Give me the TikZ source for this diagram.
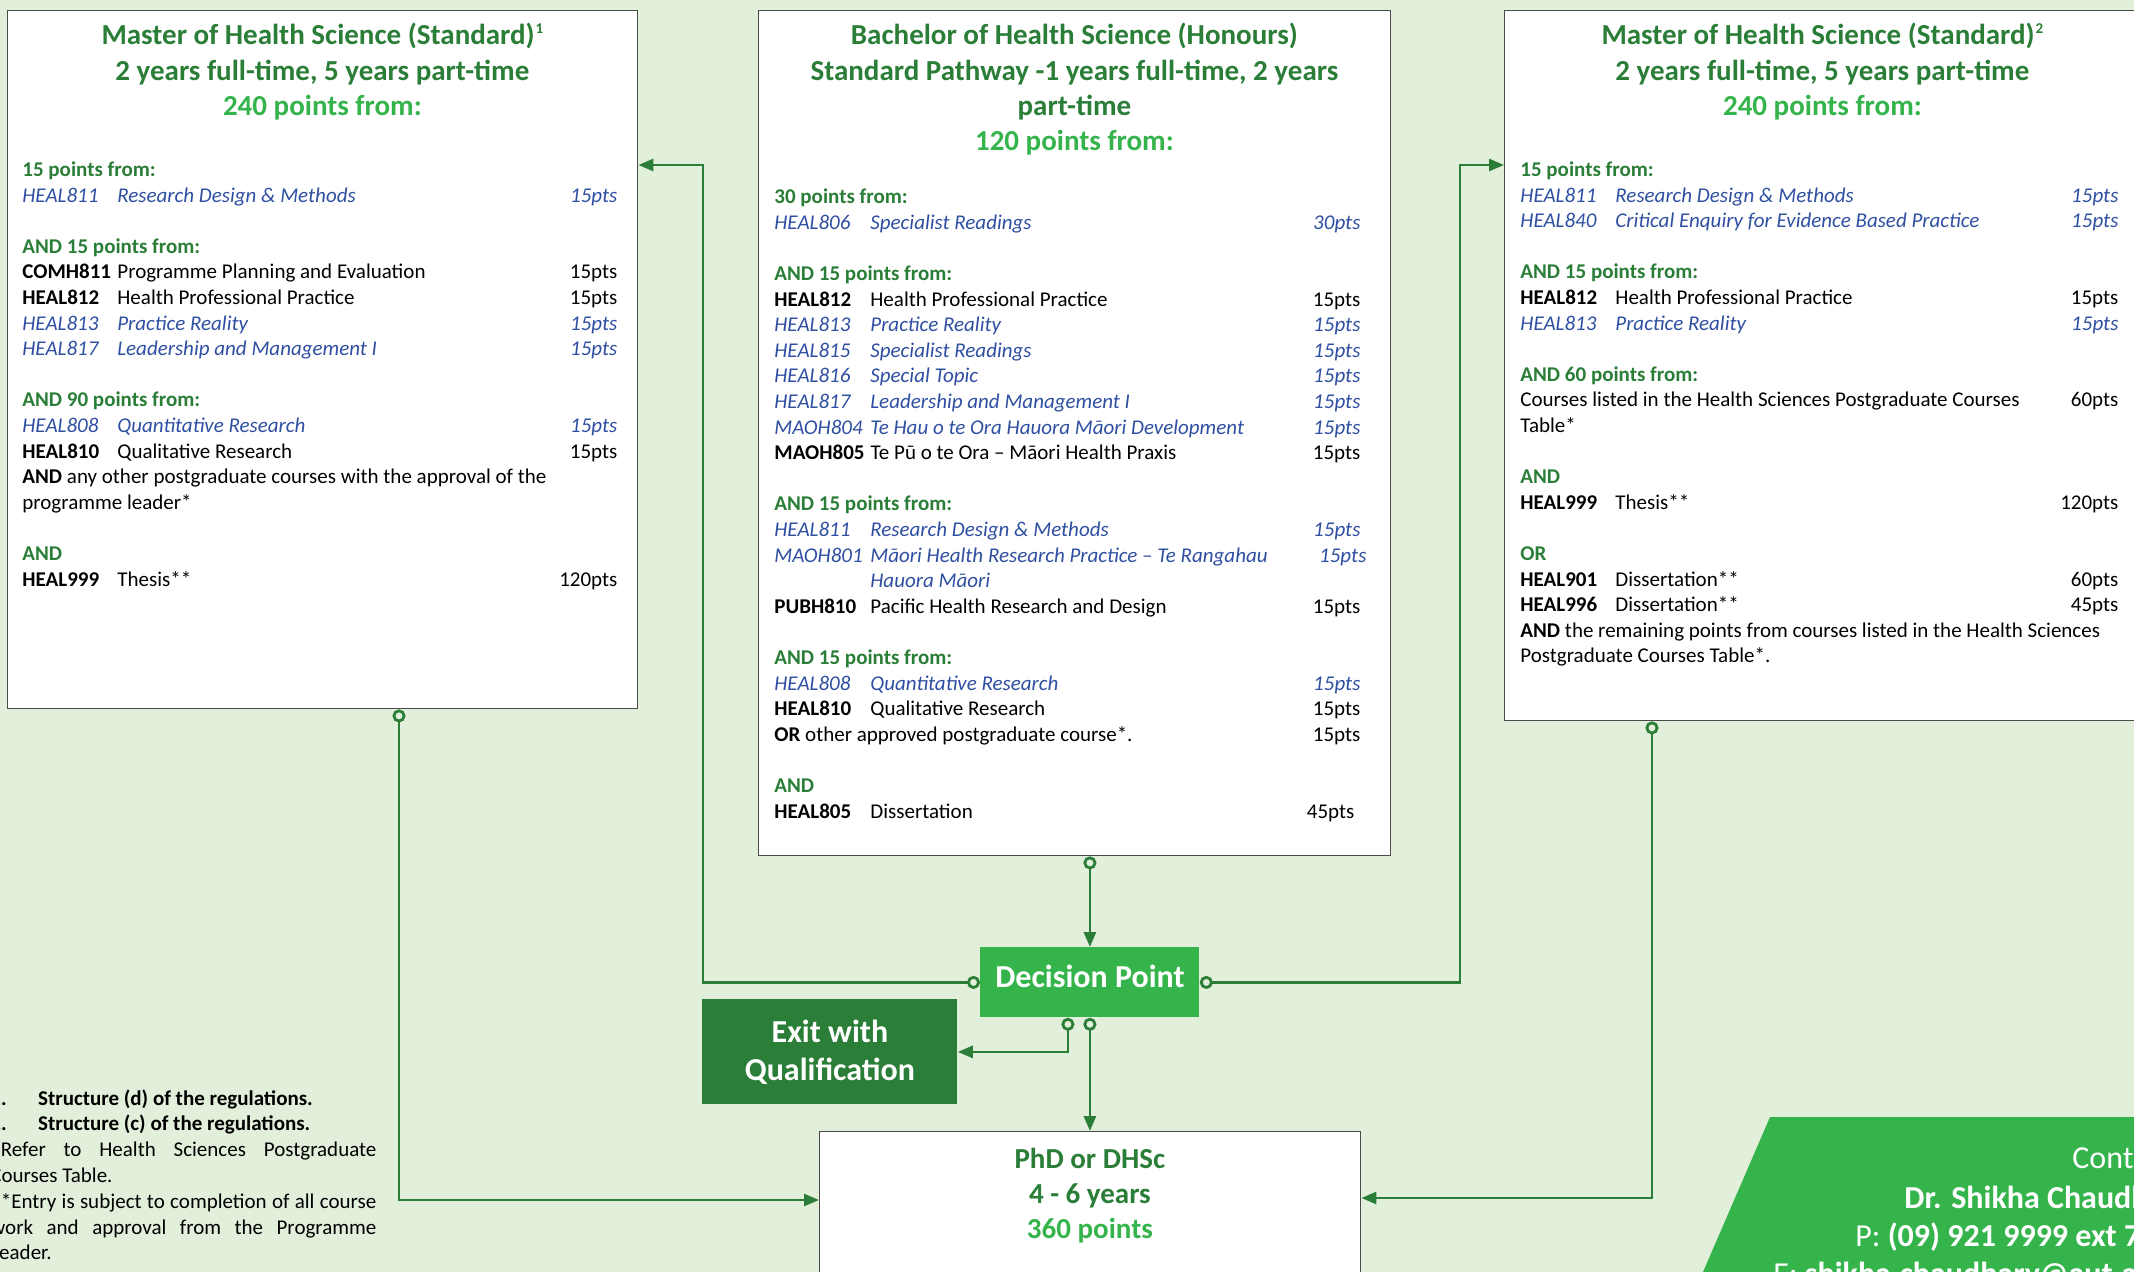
\documentclass[tikz,border=0pt]{standalone}
\usepackage{fontspec}
\setmainfont{Carlito}
\usepackage{xcolor}
\usepackage{tikz}
\usetikzlibrary{arrows.meta}
\usetikzlibrary{calc}
\definecolor{pagebg}{HTML}{E2EFDA}
\definecolor{dgreen}{HTML}{2A7E37}
\definecolor{lgreen}{HTML}{35B44C}
\definecolor{cblue}{HTML}{2F4FA2}
\definecolor{frame}{HTML}{4A4A4A}
\makeatletter
\newdimen\codew \codew=47.5pt
\newcommand\titlefont{\fontsize{14.5}{17.6}\selectfont\bfseries}
\newcommand\bodyfont{\fontsize{10.5}{12.8}\selectfont}
\newcommand\codebox[1]{\setbox\z@\hbox{#1\kern3pt}%
  \ifdim\wd\z@<\codew\hbox to\codew{\unhbox\z@\hss}\else\box\z@\fi}
\newcommand\head[1]{\hbox{\color{dgreen}\bfseries #1}}
\newcommand\crsi[3]{\hbox to\hsize{\color{cblue}\itshape\codebox{#1}#2\hfil#3}}
\newcommand\crsb[3]{\hbox to\hsize{\codebox{\bfseries #1}#2\hfil#3}}
\newcommand\gap{\vskip\baselineskip}
\newcommand\tline[2][dgreen]{\hbox to\hsize{\hfil\color{#1}#2\hfil}}
\newcommand\fnmark[1]{\kern.5pt\raisebox{5.5pt}{\fontsize{7.5}{8}\selectfont #1}}
\makeatother
\tikzstyle{plan}=[draw=frame,line width=.7pt,fill=white,inner sep=0pt,anchor=north west]
\tikzstyle{txt}=[inner sep=0pt,anchor=base west]
\tikzstyle{route}=[draw=dgreen,line width=1.4pt,{Circle[open,length=6.5pt]}-{Triangle[length=7.5pt,width=6pt]}]

\begin{document}
\begin{tikzpicture}[x=.5pt,y=-.5pt]
	\useasboundingbox (0,0) rectangle (2134,1272);
	\clip (0,0) rectangle (2134,1272);
	\fill[pagebg] (0,0) rectangle (2134,1272);
	% the three programmes
	\node[plan,minimum width=315pt,minimum height=349pt] (msc1) at (7,10) {};
	\node[plan,minimum width=316pt,minimum height=422.5pt] (bhs) at (758,10) {};
	\node[plan,minimum width=318pt,minimum height=355pt] (msc2) at (1504,10) {};
	\node[plan,minimum width=270.5pt,minimum height=90pt] (phd) at (819,1131) {};
	\node[anchor=north west,fill=lgreen,text=white,inner sep=0pt,minimum width=109.5pt,minimum height=35pt,
		text height=10.5pt,text depth=5.5pt,font=\fontsize{16}{19}\selectfont\bfseries] (dp) at (980,947) {Decision Point};
	\node[anchor=north west,fill=dgreen,text=white,inner sep=0pt,minimum width=127.5pt,minimum height=52.5pt,
		align=center,font=\fontsize{16}{19}\selectfont\bfseries] (exit) at (702,999) {Exit with\\Qualification};
	% titles
	\node[txt] (msc1-title) at (7,45) {\vtop{\hsize=315pt\titlefont
		\tline{Master of Health Science (Standard)\fnmark{1}}
		\tline{2 years full-time, 5 years part-time}
		\tline[lgreen]{240 points from:}}};
	\node[txt] (bhs-title) at (758,45) {\vtop{\hsize=316pt\titlefont
		\tline{Bachelor of Health Science (Honours)}
		\tline{Standard Pathway -1 years full-time, 2 years}
		\tline{part-time}
		\tline[lgreen]{120 points from:}}};
	\node[txt] (msc2-title) at (1504,45) {\vtop{\hsize=318pt\titlefont
		\tline{Master of Health Science (Standard)\fnmark{2}}
		\tline{2 years full-time, 5 years part-time}
		\tline[lgreen]{240 points from:}}};
	\node[txt] (phd-title) at (819,1168) {\vtop{\hsize=270.5pt\fontsize{14.5}{17.5}\selectfont\bfseries
		\tline{PhD or DHSc}
		\tline{4 - 6 years}
		\tline[lgreen]{360 points}}};
	% course lists
	\node[txt] (msc1-list) at (22,176.6) {\vtop{\hsize=297.5pt\codew=47.5pt\bodyfont
		\head{15 points from:}
		\crsi{HEAL811}{Research Design \& Methods}{15pts}
		\gap
		\head{AND 15 points from:}
		\crsb{COMH811}{Programme Planning and Evaluation}{15pts}
		\crsb{HEAL812}{Health Professional Practice}{15pts}
		\crsi{HEAL813}{Practice Reality}{15pts}
		\crsi{HEAL817}{Leadership and Management I}{15pts}
		\gap
		\head{AND 90 points from:}
		\crsi{HEAL808}{Quantitative Research}{15pts}
		\crsb{HEAL810}{Qualitative Research}{15pts}
		\hbox{\textbf{AND} any other postgraduate courses with the approval of the}
		\hbox{programme leader*}
		\gap
		\head{AND}
		\crsb{HEAL999}{Thesis**}{120pts}}};
	\node[txt] (bhs-list) at (774,203.8) {\vtop{\hsize=293pt\codew=48pt\bodyfont
		\head{30 points from:}
		\crsi{HEAL806}{Specialist Readings}{30pts}
		\gap
		\head{AND 15 points from:}
		\crsb{HEAL812}{Health Professional Practice}{15pts}
		\crsi{HEAL813}{Practice Reality}{15pts}
		\crsi{HEAL815}{Specialist Readings}{15pts}
		\crsi{HEAL816}{Special Topic}{15pts}
		\crsi{HEAL817}{Leadership and Management I}{15pts}
		\crsi{MAOH804}{Te Hau o te Ora Hauora Māori Development}{15pts}
		\crsb{MAOH805}{Te Pū o te Ora – Māori Health Praxis}{15pts}
		\gap
		\head{AND 15 points from:}
		\crsi{HEAL811}{Research Design \& Methods}{15pts}
		\crsi{MAOH801}{Māori Health Research Practice – Te Rangahau}{15pts\kern-3pt}
		\crsi{}{Hauora Māori}{}
		\crsb{PUBH810}{Pacific Health Research and Design}{15pts}
		\gap
		\head{AND 15 points from:}
		\crsi{HEAL808}{Quantitative Research}{15pts}
		\crsb{HEAL810}{Qualitative Research}{15pts}
		\hbox to\hsize{\textbf{OR} other approved postgraduate course*.\hfil 15pts}
		\gap
		\head{AND}
		\crsb{HEAL805}{Dissertation}{45pts\kern3pt}}};
	\node[txt] (msc2-list) at (1520,176.6) {\vtop{\hsize=299pt\codew=47.5pt\bodyfont
		\head{15 points from:}
		\crsi{HEAL811}{Research Design \& Methods}{15pts}
		\crsi{HEAL840}{Critical Enquiry for Evidence Based Practice}{15pts}
		\gap
		\head{AND 15 points from:}
		\crsb{HEAL812}{Health Professional Practice}{15pts}
		\crsi{HEAL813}{Practice Reality}{15pts}
		\gap
		\head{AND 60 points from:}
		\hbox to\hsize{Courses listed in the Health Sciences Postgraduate Courses\hfil 60pts}
		\hbox{Table*}
		\gap
		\head{AND}
		\crsb{HEAL999}{Thesis**}{120pts}
		\gap
		\head{OR}
		\crsb{HEAL901}{Dissertation**}{60pts}
		\crsb{HEAL996}{Dissertation**}{45pts}
		\hbox{\textbf{AND} the remaining points from courses listed in the Health Sciences}
		\hbox{Postgraduate Courses Table*.}}};
	% footnotes
	\node[txt] (notes) at (-10,1105) {\vtop{\hsize=193pt\fontsize{10.5}{12.9}\selectfont
		\hbox{\bfseries\hbox to 23.85pt{1.\hss}Structure (d) of the regulations.}
		\hbox{\bfseries\hbox to 23.85pt{2.\hss}Structure (c) of the regulations.}
		\tolerance=10000\hyphenpenalty=10000
		\noindent *Refer to Health Sciences Postgraduate Courses Table.\endgraf
		\noindent **Entry is subject to completion of all course work and approval from the Programme Leader.\endgraf}};
	% contact panel
	\fill[lgreen] (1770,1117) -- (2134,1117) -- (2134,1272) -- (1703,1272) -- cycle;
	\node[txt,text=white,font=\fontsize{16}{19}\selectfont] (contact) at (2072,1168) {Contact};
	\node[txt,text=white,font=\fontsize{16}{19}\selectfont\bfseries] (contact-name) at (1904,1208) {Dr. Shikha Chaudhary};
	\node[txt,text=white,font=\fontsize{16}{19}\selectfont] (contact-phone) at (1855,1246) {P: \textbf{(09) 921 9999 ext 7}};
	\node[txt,text=white,font=\fontsize{16}{19}\selectfont] (contact-mail) at (1773,1284) {E: \textbf{shikha.chaudhary@aut.ac.nz}};
	% connectors
	\coordinate (k1) at (703,165);
	\coordinate (k2) at (1460,165);
	\coordinate (k3) at (399,1200);
	\coordinate (k4) at (1652,1198);
	\draw[route] (dp.north |- bhs.south) -- (dp.north);
	\draw[route] (dp.west) -| (k1) -- (k1 -| msc1.east);
	\draw[route] (dp.east) -| (k2) -- (k2 -| msc2.west);
	\draw[route] ($(dp.south)+(-22,0)$) |- (exit.east);
	\draw[route] (dp.south) -- (dp.south |- phd.north);
	\draw[route] (k3 |- msc1.south) -- (k3) -- (k3 -| phd.west);
	\draw[route] (k4 |- msc2.south) -- (k4) -- (k4 -| phd.east);
\end{tikzpicture}
\end{document}
